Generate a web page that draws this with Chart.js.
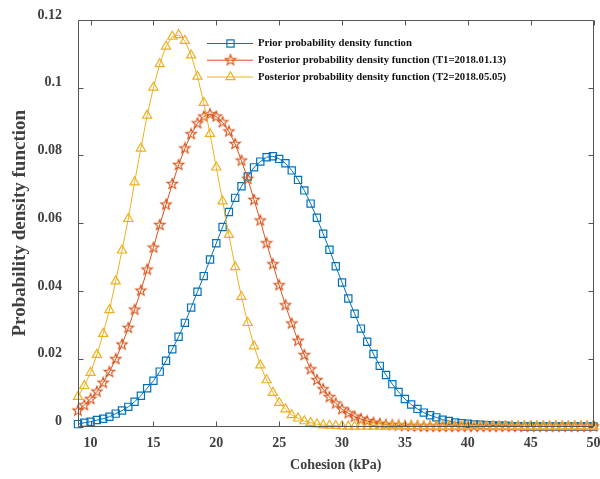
<!DOCTYPE html>
<html>
<head>
<meta charset="utf-8">
<script src="https://cdn.jsdelivr.net/npm/chart.js@4.4.1/dist/chart.umd.min.js"></script>
<style>
  html, body { margin: 0; padding: 0; background: #fff; }
  #wrap { width: 600px; height: 479px; }
</style>
</head>
<body>
<div id="wrap"><canvas id="pdfChart" width="600" height="479"></canvas></div>
<script>
// cohesion sample points (kPa)
const cohesion = [
  9, 9.5, 10, 10.5, 11, 11.5, 12, 12.5, 13, 13.5,
  14, 14.5, 15, 15.5, 16, 16.5, 17, 17.5, 18, 18.5,
  19, 19.5, 20, 20.5, 21, 21.5, 22, 22.5, 23, 23.5,
  24, 24.5, 25, 25.5, 26, 26.5, 27, 27.5, 28, 28.5,
  29, 29.5, 30, 30.5, 31, 31.5, 32, 32.5, 33, 33.5,
  34, 34.5, 35, 35.5, 36, 36.5, 37, 37.5, 38, 38.5,
  39, 39.5, 40, 40.5, 41, 41.5, 42, 42.5, 43, 43.5,
  44, 44.5, 45, 45.5, 46, 46.5, 47, 47.5, 48, 48.5,
  49, 49.5, 50
];

const priorPdf = [
  0.0007, 0.0011, 0.0014, 0.0019, 0.0023, 0.0029, 0.0038, 0.0047, 0.0058, 0.0073,
  0.0091, 0.0113, 0.0135, 0.0162, 0.0194, 0.0228, 0.0265, 0.0306, 0.0351, 0.0398,
  0.0444, 0.0493, 0.0541, 0.0589, 0.0633, 0.0675, 0.0709, 0.0738, 0.0765, 0.0782,
  0.0795, 0.0798, 0.0790, 0.0777, 0.0756, 0.0728, 0.0697, 0.0658, 0.0616, 0.0569,
  0.0522, 0.0473, 0.0425, 0.0378, 0.0333, 0.0289, 0.0250, 0.0214, 0.0179, 0.0152,
  0.0125, 0.0102, 0.0081, 0.0065, 0.0052, 0.0041, 0.0033, 0.0027, 0.0020, 0.0016,
  0.0012, 0.0010, 0.0008, 0.0006, 0.0005, 0.0004, 0.0003, 0.0002, 0.0002, 0.0001,
  0.0001, 0, 0, 0, 0, 0, 0, 0, 0, 0,
  0, 0, 0
];

const postT1Pdf = [
  0.0047, 0.0063, 0.0081, 0.0103, 0.0129, 0.0161, 0.0199, 0.0242, 0.0291, 0.0345,
  0.0401, 0.0463, 0.0528, 0.0595, 0.0655, 0.0716, 0.0772, 0.0821, 0.0863, 0.0895,
  0.0915, 0.0922, 0.0915, 0.0898, 0.0871, 0.0834, 0.0785, 0.0731, 0.0669, 0.0608,
  0.0541, 0.0479, 0.0417, 0.0358, 0.0304, 0.0253, 0.0211, 0.0169, 0.0137, 0.0110,
  0.0087, 0.0068, 0.0051, 0.0039, 0.0029, 0.0022, 0.0016, 0.0011, 0.0008, 0.0005,
  0.0004, 0.0003, 0.0002, 0.0001, 0.0001, 0, 0, 0, 0, 0,
  0, 0, 0, 0, 0, 0, 0, 0, 0, 0,
  0, 0, 0, 0, 0, 0, 0, 0, 0, 0,
  0, 0, 0
];

const postT2Pdf = [
  0.0088, 0.0120, 0.0159, 0.0212, 0.0274, 0.0344, 0.0429, 0.0520, 0.0613, 0.0721,
  0.0821, 0.0918, 0.1001, 0.1070, 0.1122, 0.1151, 0.1156, 0.1139, 0.1096, 0.1033,
  0.0956, 0.0864, 0.0765, 0.0665, 0.0566, 0.0471, 0.0383, 0.0306, 0.0237, 0.0181,
  0.0137, 0.0100, 0.0070, 0.0051, 0.0034, 0.0024, 0.0016, 0.0011, 0.0007, 0.0004,
  0.0003, 0.0002, 0.0001, 0, 0, 0, 0, 0, 0, 0,
  0, 0, 0, 0, 0, 0, 0, 0, 0, 0,
  0, 0, 0, 0, 0, 0, 0, 0, 0, 0,
  0, 0, 0, 0, 0, 0, 0, 0, 0, 0,
  0, 0, 0
];

const xTicks = [10, 15, 20, 25, 30, 35, 40, 45, 50];
const yTicks = [0, 0.02, 0.04, 0.06, 0.08, 0.1, 0.12];

const seriesNames = [
  "Prior probability density function",
  "Posterior probability density function (T1=2018.01.13)",
  "Posterior probability density function (T2=2018.05.05)"
];
const blue = "#0072BD";
const red = "#D95319";
const yellow = "#EDB120";

const serif = "'Liberation Serif', 'Times New Roman', serif";
const axisText = "#404040";

// five-pointed star marker, drawn once and reused as a pointStyle image
function makePentagram(color) {
  const c = document.createElement("canvas");
  c.width = 14;
  c.height = 14;
  const g = c.getContext("2d");
  g.strokeStyle = color;
  g.lineWidth = 1.1;
  g.beginPath();
  for (let k = 0; k < 10; k++) {
    const r = k % 2 ? 2.3 : 5.5;
    const a = -Math.PI / 2 + k * Math.PI / 5;
    const px = 7 + r * Math.cos(a);
    const py = 7 + r * Math.sin(a);
    if (k === 0) g.moveTo(px, py); else g.lineTo(px, py);
  }
  g.closePath();
  g.stroke();
  return c;
}
const starMark = makePentagram(red);

function toPoints(values) {
  return values.map((v, i) => ({ x: cohesion[i], y: v }));
}

// box round the plot with inward ticks on all four sides
const axisBox = {
  id: "axisBox",
  afterDatasetsDraw(chart) {
    const { ctx, chartArea: a, scales } = chart;
    const L = Math.round(a.left) + 0.5, R = Math.round(a.right) - 0.5;
    const T = Math.round(a.top) + 0.5, B = Math.round(a.bottom) - 0.5;
    ctx.save();
    ctx.strokeStyle = "#555";
    ctx.lineWidth = 1;
    ctx.beginPath();
    ctx.rect(L, T, R - L, B - T);
    xTicks.forEach(v => {
      const px = Math.round(scales.x.getPixelForValue(v)) + 0.5;
      ctx.moveTo(px, B); ctx.lineTo(px, B - 5);
      ctx.moveTo(px, T); ctx.lineTo(px, T + 5);
    });
    yTicks.forEach(v => {
      const py = Math.round(scales.y.getPixelForValue(v)) + 0.5;
      ctx.moveTo(L, py); ctx.lineTo(L + 5, py);
      ctx.moveTo(R, py); ctx.lineTo(R - 5, py);
    });
    ctx.stroke();
    ctx.restore();
  }
};

// legend without a frame, placed inside the plot
const innerLegend = {
  id: "innerLegend",
  afterDraw(chart) {
    const ctx = chart.ctx;
    const x0 = 207, x1 = 253, xm = 230.5, tx = 258;
    const rows = [43.5, 60.2, 77];
    ctx.save();
    ctx.font = "bold 10.7px " + serif;
    ctx.textBaseline = "middle";
    ctx.textAlign = "left";
    [blue, red, yellow].forEach((col, i) => {
      const y = rows[i];
      ctx.strokeStyle = col;
      ctx.lineWidth = 1;
      ctx.beginPath();
      ctx.moveTo(x0, y); ctx.lineTo(x1, y);
      ctx.stroke();
      ctx.lineWidth = 1.2;
      if (i === 0) {
        ctx.strokeRect(xm - 3.6, y - 3.6, 7.2, 7.2);
      } else if (i === 1) {
        ctx.drawImage(starMark, xm - 7, y - 7, 14, 14);
      } else {
        const r = 5.3;
        ctx.beginPath();
        ctx.moveTo(xm, y - r);
        ctx.lineTo(xm + 0.866 * r, y + 0.5 * r);
        ctx.lineTo(xm - 0.866 * r, y + 0.5 * r);
        ctx.closePath();
        ctx.stroke();
      }
      ctx.fillStyle = "#111";
      ctx.fillText(seriesNames[i], tx, y);
    });
    ctx.restore();
  }
};

const tickFont = { family: serif, size: 14, weight: "bold" };

new Chart(document.getElementById("pdfChart"), {
  type: "line",
  data: {
    datasets: [
      {
        label: seriesNames[0],
        data: toPoints(priorPdf),
        borderColor: blue,
        borderWidth: 1,
        pointStyle: "rect",
        pointRadius: 5.1,
        pointBorderWidth: 1.2,
        pointBorderColor: blue,
        pointBackgroundColor: "rgba(0,0,0,0)",
        clip: false,
        order: 2
      },
      {
        label: seriesNames[1],
        data: toPoints(postT1Pdf),
        borderColor: red,
        borderWidth: 1,
        pointStyle: starMark,
        pointRadius: 5,
        clip: false,
        order: 1
      },
      {
        label: seriesNames[2],
        data: toPoints(postT2Pdf),
        borderColor: yellow,
        borderWidth: 1,
        pointStyle: "triangle",
        pointRadius: 5.3,
        pointBorderWidth: 1.2,
        pointBorderColor: yellow,
        pointBackgroundColor: "rgba(0,0,0,0)",
        clip: false,
        order: 0
      }
    ]
  },
  options: {
    responsive: false,
    animation: false,
    devicePixelRatio: 1,
    layout: { padding: { top: 20, right: 3, left: 0, bottom: 0 } },
    plugins: { legend: { display: false }, tooltip: { enabled: false } },
    scales: {
      x: {
        type: "linear",
        min: 9,
        max: 50,
        afterBuildTicks: s => { s.ticks = xTicks.map(v => ({ value: v })); },
        afterFit: s => { s.height = 52.5; s.paddingLeft = 0; s.paddingRight = 0; },
        grid: { display: false, drawTicks: false },
        border: { display: false },
        ticks: { font: tickFont, color: axisText, padding: 8, maxRotation: 0, autoSkip: false },
        title: {
          display: true,
          text: "Cohesion (kPa)",
          font: { family: serif, size: 14, weight: "bold" },
          color: axisText,
          padding: { top: 0, bottom: 5 }
        }
      },
      y: {
        type: "linear",
        min: 0,
        max: 0.12,
        afterBuildTicks: s => { s.ticks = yTicks.map(v => ({ value: v })); },
        afterFit: s => { s.width = 78; s.paddingTop = 0; s.paddingBottom = 0; },
        grid: { display: false, drawTicks: false },
        border: { display: false },
        ticks: {
          font: tickFont,
          color: axisText,
          padding: 16,
          labelOffset: -5,
          callback: v => String(+v.toFixed(2))
        },
        title: {
          display: true,
          text: "Probability density function",
          font: { family: serif, size: 19, weight: "bold" },
          color: axisText,
          padding: { top: 9, bottom: 0 }
        }
      }
    }
  },
  plugins: [axisBox, innerLegend]
});
</script>
</body>
</html>
